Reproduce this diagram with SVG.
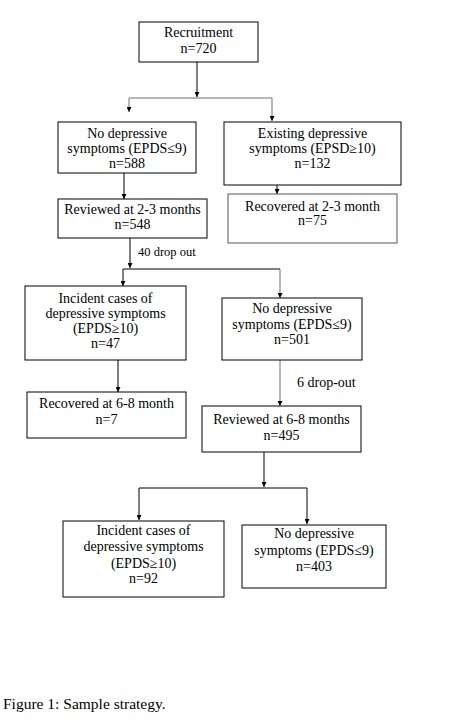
<svg xmlns="http://www.w3.org/2000/svg" width="453" height="724" viewBox="0 0 453 724">
<style>
.box{fill:#fff;stroke:#000;stroke-width:1}
.gbox{fill:#fff;stroke:#555;stroke-width:1}
.t{font-family:"Liberation Serif","Times New Roman",serif;font-size:14px;fill:#000;text-anchor:middle}
.lbl{font-family:"Liberation Serif","Times New Roman",serif;fill:#000}
.ln{fill:none;stroke:#000;stroke-width:1}
.gln{fill:none;stroke:#6e6e6e;stroke-width:1}
</style>
<defs>
<marker id="ah" viewBox="0 0 10 10" refX="10" refY="5" markerWidth="5" markerHeight="5" orient="auto" markerUnits="userSpaceOnUse"><path d="M0,0 L10,5 L0,10 z" fill="#000"/></marker>
</defs>
<rect width="453" height="724" fill="#fff"/>
<g id="connectors">
<line class="ln" x1="197" y1="62" x2="197" y2="97" marker-end="url(#ah)"/>
<line class="gln" x1="129" y1="98" x2="272" y2="98"/>
<line class="gln" x1="129" y1="98" x2="129" y2="112" marker-end="url(#ah)"/>
<line class="gln" x1="272" y1="98" x2="272" y2="121" marker-end="url(#ah)"/>
<line class="ln" x1="124" y1="173" x2="124" y2="199" marker-end="url(#ah)"/>
<line class="ln" x1="277" y1="185" x2="277" y2="194" marker-end="url(#ah)"/>
<line class="ln" x1="130" y1="238" x2="130" y2="268" marker-end="url(#ah)"/>
<line class="ln" x1="123" y1="269" x2="280" y2="269"/>
<line class="ln" x1="123" y1="269" x2="123" y2="286" marker-end="url(#ah)"/>
<line class="gln" x1="280" y1="269" x2="280" y2="298" marker-end="url(#ah)"/>
<line class="ln" x1="118" y1="360" x2="118" y2="392" marker-end="url(#ah)"/>
<line class="gln" x1="280" y1="360" x2="280" y2="406" marker-end="url(#ah)"/>
<line class="ln" x1="264" y1="452" x2="264" y2="487" marker-end="url(#ah)"/>
<line class="ln" x1="139" y1="488" x2="307" y2="488"/>
<line class="ln" x1="139" y1="488" x2="139" y2="520" marker-end="url(#ah)"/>
<line class="ln" x1="307" y1="488" x2="307" y2="524" marker-end="url(#ah)"/>
<text class="lbl" x="138" y="256" font-size="12.5">40 drop out</text>
<text class="lbl" x="297" y="387" font-size="14">6 drop-out</text>
</g>
<g id="recruitment">
<rect class="box" x="139" y="22" width="119" height="40"/>
<text class="t" x="198.5" y="37">Recruitment</text>
<text class="t" x="198.5" y="53">n=720</text>
</g>
<g id="no-dep-1">
<rect class="box" x="58" y="122" width="138" height="51"/>
<text class="t" x="127" y="138">No depressive</text>
<text class="t" x="127" y="153">symptoms (EPDS≤9)</text>
<text class="t" x="127" y="168">n=588</text>
</g>
<g id="existing">
<rect class="box" x="224" y="122" width="177" height="63"/>
<text class="t" x="312.5" y="138">Existing depressive</text>
<text class="t" x="312.5" y="153">symptoms (EPSD≥10)</text>
<text class="t" x="312.5" y="168">n=132</text>
</g>
<g id="reviewed-1">
<rect class="box" x="58" y="199" width="149" height="39"/>
<text class="t" x="132.5" y="214">Reviewed at 2-3 months</text>
<text class="t" x="132.5" y="229">n=548</text>
</g>
<g id="recovered-1">
<rect class="gbox" x="228" y="194" width="169" height="49"/>
<text class="t" x="312.5" y="211">Recovered at 2-3 month</text>
<text class="t" x="312.5" y="225">n=75</text>
</g>
<g id="incident-1">
<rect class="box" x="25" y="286" width="161" height="74"/>
<text class="t" x="105.5" y="303">Incident cases of</text>
<text class="t" x="105.5" y="318">depressive symptoms</text>
<text class="t" x="105.5" y="333">(EPDS≥10)</text>
<text class="t" x="105.5" y="348">n=47</text>
</g>
<g id="no-dep-2">
<rect class="box" x="222" y="298" width="140" height="62" stroke="#222"/>
<text class="t" x="292" y="313">No depressive</text>
<text class="t" x="292" y="329">symptoms (EPDS≤9)</text>
<text class="t" x="292" y="344">n=501</text>
</g>
<g id="recovered-2">
<rect class="box" x="27" y="392" width="159" height="46"/>
<text class="t" x="106.5" y="408">Recovered at 6-8 month</text>
<text class="t" x="106.5" y="424">n=7</text>
</g>
<g id="reviewed-2">
<rect class="box" x="202" y="406" width="159" height="46"/>
<text class="t" x="281.5" y="424">Reviewed at 6-8 months</text>
<text class="t" x="281.5" y="440">n=495</text>
</g>
<g id="incident-2">
<rect class="box" x="63" y="521" width="161" height="76"/>
<text class="t" x="143.5" y="535">Incident cases of</text>
<text class="t" x="143.5" y="551">depressive symptoms</text>
<text class="t" x="143.5" y="568">(EPDS≥10)</text>
<text class="t" x="143.5" y="583">n=92</text>
</g>
<g id="no-dep-3">
<rect class="box" x="242" y="525" width="144" height="63"/>
<text class="t" x="314" y="538">No depressive</text>
<text class="t" x="314" y="555">symptoms (EPDS≤9)</text>
<text class="t" x="314" y="571">n=403</text>
</g>
<text class="lbl" x="3" y="709" font-size="15.5">Figure 1: Sample strategy.</text>
</svg>
